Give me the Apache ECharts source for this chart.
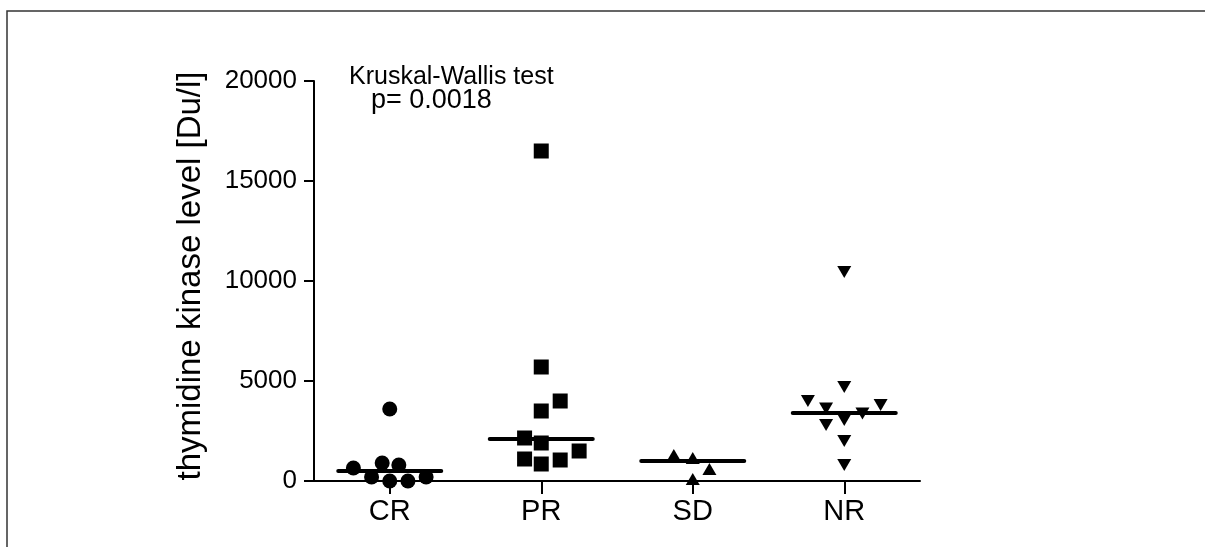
<!DOCTYPE html>
<html>
<head>
<meta charset="utf-8">
<script src="https://cdn.jsdelivr.net/npm/echarts@6/dist/echarts.min.js"></script>
<style>
html,body{margin:0;padding:0;background:#fff;}
#chart{width:1205px;height:547px;}
</style>
</head>
<body>
<div id="chart"></div>
<script>
// ---- data ----
const categories = ['CR', 'PR', 'SD', 'NR'];
const yTicks = [0, 5000, 10000, 15000, 20000];

// values (thymidine kinase level, Du/l)
const crValues = [3600, 650, 900, 800, 200, 200, 0, 0];
const prValues = [16500, 5700, 4000, 3500, 2150, 1900, 1500, 1100, 1050, 850];
const sdValues = [1300, 1150, 600, 100];
const nrValues = [10450, 4700, 4000, 3630, 3800, 3380, 2800, 3050, 2000, 800];

// horizontal scatter offsets (column-scatter spread, in category units)
const crSpread = [0, -0.24, -0.05, 0.06, -0.12, 0.24, 0, 0.12];
const prSpread = [0, 0, 0.125, 0, -0.11, 0, 0.25, -0.11, 0.125, 0];
const sdSpread = [-0.125, 0, 0.11, 0];
const nrSpread = [0, 0, -0.24, -0.12, 0.24, 0.12, -0.12, 0, 0, 0];

// median lines as drawn
const medians = [500, 2100, 1000, 3400];

const annotTitle = 'Kruskal-Wallis test';
const annotP = 'p= 0.0018';
const yTitle = 'thymidine kinase level [Du/l]';

// ---- build ----
const groups = [
  { values: crValues, spread: crSpread, symbol: 'circle', size: 15, rotate: 0 },
  { values: prValues, spread: prSpread, symbol: 'rect', size: 15, rotate: 0 },
  { values: sdValues, spread: sdSpread, symbol: 'triangle', size: [14, 12], rotate: 0 },
  { values: nrValues, spread: nrSpread, symbol: 'triangle', size: [14, 12], rotate: 180 }
];

const series = [];
groups.forEach((g, i) => {
  series.push({
    type: 'scatter',
    name: categories[i],
    xAxisIndex: 1,
    yAxisIndex: 0,
    clip: false,
    symbol: g.symbol,
    symbolSize: g.size,
    symbolRotate: g.rotate,
    itemStyle: { color: '#000', opacity: 1 },
    emphasis: { disabled: true },
    data: g.values.map((v, k) => [i + 0.5 + g.spread[k], v]),
    z: 3
  });
});
medians.forEach((m, i) => {
  series.push({
    type: 'line',
    xAxisIndex: 1,
    yAxisIndex: 0,
    symbol: 'none',
    silent: true,
    lineStyle: { color: '#000', width: 4, cap: 'round', opacity: 1 },
    data: [[i + 0.5 - 0.34, m], [i + 0.5 + 0.34, m]],
    z: 4
  });
});

const chart = echarts.init(document.getElementById('chart'), null, { renderer: 'canvas' });
chart.setOption({
  backgroundColor: '#fff',
  animation: false,
  textStyle: { fontFamily: 'Liberation Sans', color: '#000' },
  grid: { left: 314, right: 285, top: 81, bottom: 66, containLabel: false },
  xAxis: [
    {
      type: 'category',
      data: categories,
      boundaryGap: true,
      axisLine: { show: true, lineStyle: { color: '#000', width: 2 } },
      axisTick: { show: true, alignWithLabel: true, length: 13, lineStyle: { color: '#000', width: 2 } },
      axisLabel: { color: '#000', fontFamily: 'Liberation Sans', fontSize: 29, margin: 16 },
      splitLine: { show: false }
    },
    {
      type: 'value',
      min: 0,
      max: categories.length,
      show: false
    }
  ],
  yAxis: {
    type: 'value',
    min: yTicks[0],
    max: yTicks[yTicks.length - 1],
    interval: yTicks[1] - yTicks[0],
    name: yTitle,
    nameLocation: 'middle',
    nameGap: 107,
    nameRotate: 90,
    nameTextStyle: { color: '#000', fontFamily: 'Liberation Sans', fontSize: 33, padding: [0, 0, 0, 10] },
    axisLine: { show: true, lineStyle: { color: '#000', width: 2 } },
    axisTick: { show: true, length: 10, lineStyle: { color: '#000', width: 2 } },
    axisLabel: { color: '#000', fontFamily: 'Liberation Sans', fontSize: 26, margin: 17, formatter: v => String(v) },
    splitLine: { show: false }
  },
  graphic: [
    {
      type: 'rect',
      silent: true,
      shape: { x: 7, y: 11, width: 1400, height: 700 },
      style: { fill: 'none', stroke: '#333', lineWidth: 1.5 }
    },
    {
      type: 'text',
      silent: true,
      style: { x: 349, y: 65, text: annotTitle, fill: '#000', font: '25px "Liberation Sans"', textVerticalAlign: 'top' }
    },
    {
      type: 'text',
      silent: true,
      style: { x: 371, y: 87, text: annotP, fill: '#000', font: '27px "Liberation Sans"', textVerticalAlign: 'top' }
    }
  ],
  series: series
});
</script>
</body>
</html>
